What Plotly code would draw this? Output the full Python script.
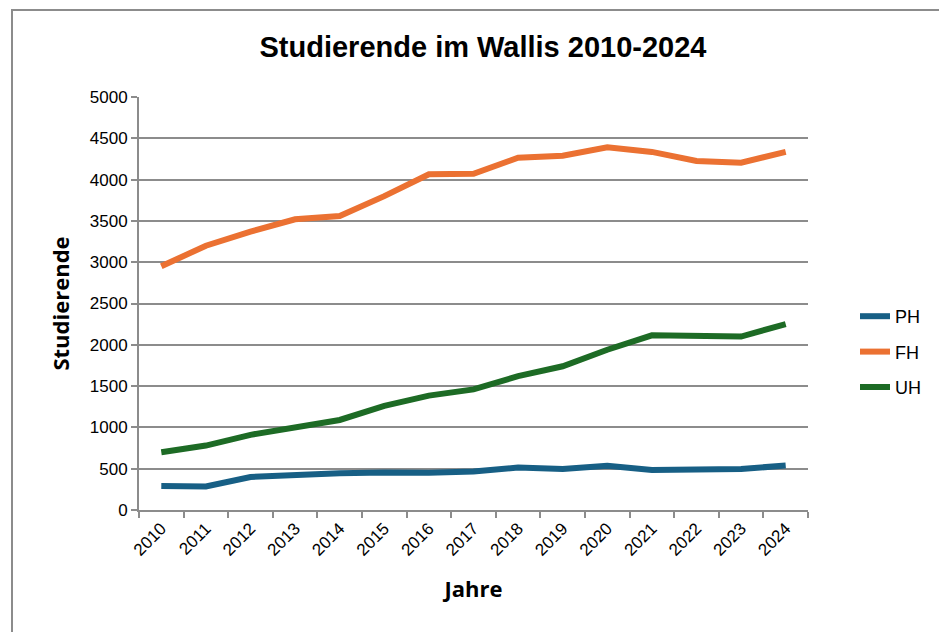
import plotly.graph_objects as go

years = [str(y) for y in range(2010, 2025)]
ph = [290, 285, 400, 425, 445, 455, 450, 465, 515, 495, 535, 485, 490, 495, 540]
fh = [2950, 3200, 3370, 3520, 3560, 3800, 4065, 4070, 4265, 4290, 4390, 4335, 4225, 4205, 4335]
uh = [700, 780, 910, 1000, 1090, 1260, 1385, 1460, 1620, 1740, 1940, 2115, 2115, 2100, 2250]

series = [("PH", ph, "#175F85"), ("FH", fh, "#EB7132"), ("UH", uh, "#1D6B25")]

fig = go.Figure()
for name, vals, col in series:
    fig.add_trace(go.Scatter(x=years, y=vals, name=name, mode="lines", legendgroup=name,
                             line=dict(color=col, width=6)))

# page body has an 8px offset
L, R, T, B = 131, 147, 89, 130
W, H = 947, 632
pw, ph_ = W - L - R, H - T - B

FONT = "Liberation Sans"

fig.update_layout(
    width=W, height=H,
    margin=dict(l=L, r=R, t=T, b=B, autoexpand=False),
    paper_bgcolor="white", plot_bgcolor="white",
    font=dict(family=FONT, size=17, color="black"),
    title=dict(text="<b>Studierende im Wallis 2010-2024</b>",
               font=dict(family=FONT, size=29, color="black"),
               x=475 / W, xanchor="center", y=1 - 39 / H, yanchor="middle"),
    showlegend=True,
    legend=dict(x=(855 - 8 - L) / pw, y=(H - B - (352 - 8)) / ph_, xanchor="left", yanchor="middle",
                font=dict(size=18, family=FONT),
                tracegroupgap=9, itemwidth=30, bgcolor="rgba(0,0,0,0)"),
    xaxis=dict(type="category", range=[-0.5, 14.5], autorange=False,
               tickson="boundaries", ticks="outside", ticklen=6,
               tickcolor="#8C8C8C", tickwidth=2, showline=True, linecolor="#8C8C8C",
               linewidth=2, showgrid=False, tickangle=-45, automargin=False,
               tickfont=dict(size=17, family=FONT),
               title=dict(text="<b>Jahre</b>", font=dict(family="Open Sans", size=22),
                          standoff=23)),
    yaxis=dict(range=[0, 5000], autorange=False, dtick=500, ticks="outside", ticklen=6,
               tickcolor="#8C8C8C", tickwidth=2, showline=True, linecolor="#8C8C8C",
               linewidth=2, showgrid=True, gridcolor="#8C8C8C", gridwidth=2,
               zeroline=False, tickfont=dict(size=17, family=FONT), automargin=False,
               title=dict(text="<b>Studierende</b>", font=dict(family="Open Sans", size=22),
                          standoff=14)),
)

fig.add_shape(type="rect", xref="paper", yref="paper",
              x0=(4 - L) / pw, x1=(W + 20 - L) / pw,
              y0=(H - B - (H + 20)) / ph_, y1=(H - B - 2) / ph_,
              line=dict(color="#8C8C8C", width=2), fillcolor="rgba(0,0,0,0)", layer="below")

fig.write_html("out.html")
